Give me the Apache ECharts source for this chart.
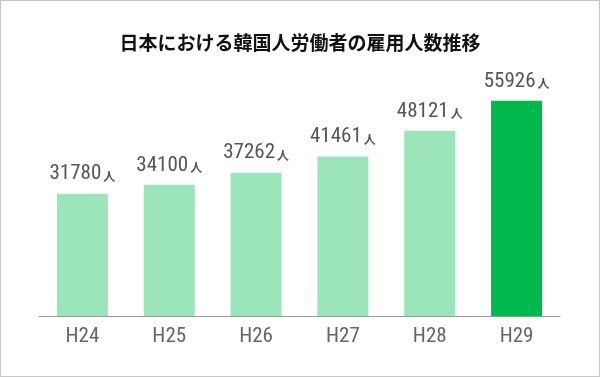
<!DOCTYPE html>
<html>
<head>
<meta charset="utf-8">
<script src="https://cdn.jsdelivr.net/npm/echarts@6/dist/echarts.min.js"></script>
<style>
  html, body { margin: 0; padding: 0; background: #fff; }
  #chart { width: 600px; height: 377px; box-sizing: border-box; border: 1px solid #c8c8c8; }
</style>
</head>
<body>
<div id="chart"></div>
<script>
const titleText = '日本における韓国人労働者の雇用人数推移';
const years = ['H24', 'H25', 'H26', 'H27', 'H28', 'H29'];
const workers = [31780, 34100, 37262, 41461, 48121, 55926];
const highlightIndex = 5;

const numFont = "'Liberation Sans Narrow', 'Roboto Condensed', 'DejaVu Sans Condensed', sans-serif";

const chart = echarts.init(document.getElementById('chart'));

const option = {
    animation: false,
    title: {
        text: titleText,
        left: 'center',
        top: 27,
        textStyle: {
            fontFamily: 'Noto Sans CJK JP',
            fontSize: 19,
            fontWeight: 'bold',
            color: '#111'
        }
    },
    grid: {
        left: 38,
        right: 39,
        top: 38,
        bottom: 60
    },
    xAxis: {
        type: 'category',
        data: years,
        axisTick: { show: false },
        axisLine: { lineStyle: { color: '#999', width: 1 } },
        axisLabel: {
            margin: 10,
            color: '#666',
            fontFamily: numFont,
            fontSize: 21
        }
    },
    yAxis: {
        type: 'value',
        min: 0,
        max: 72000,
        show: false,
        splitLine: { show: false }
    },
    series: [{
        type: 'bar',
        barWidth: 51,
        data: workers.map((v, i) => ({
            value: v,
            itemStyle: { color: i === highlightIndex ? '#00b84c' : '#9ce4ba' }
        })),
        label: {
            show: true,
            position: 'top',
            distance: 9,
            formatter: '{n|{c}}{u|人}',
            rich: {
                n: { fontFamily: numFont, fontSize: 21, color: '#555' },
                u: { fontFamily: 'Noto Sans CJK JP', fontSize: 12, fontWeight: 'bold', color: '#555', padding: [5, 0, 0, 2] }
            }
        }
    }]
};

chart.setOption(option);
</script>
</body>
</html>
